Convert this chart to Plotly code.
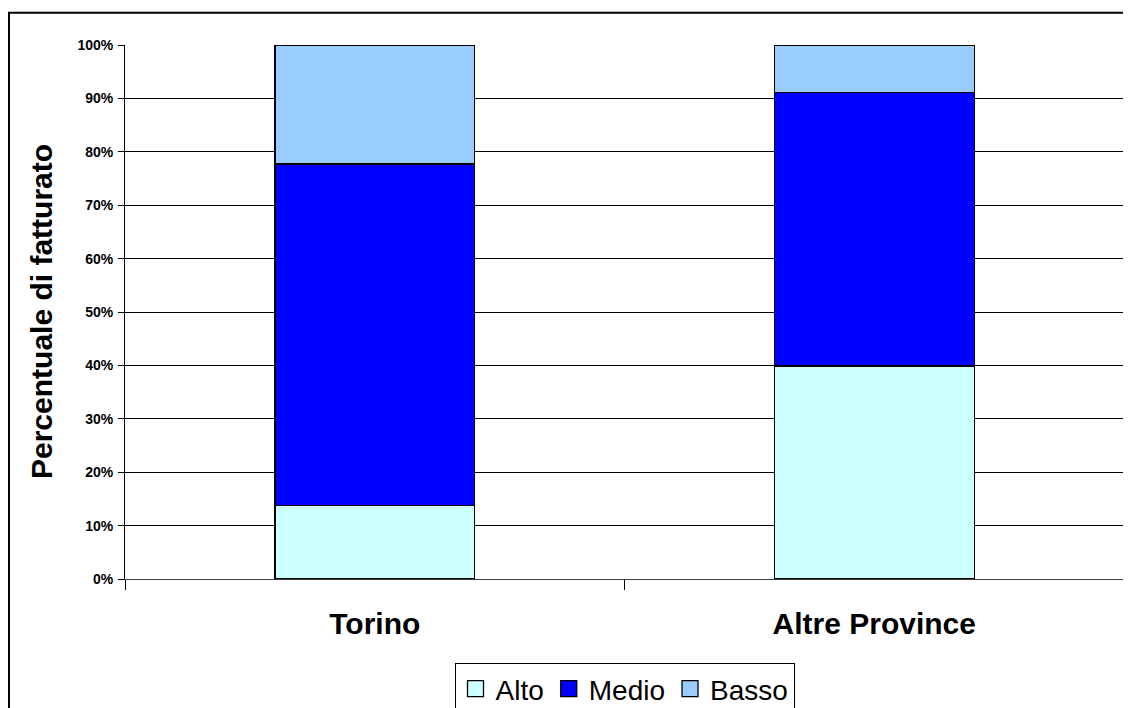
import plotly.graph_objects as go

categories = ["Torino", "Altre Province"]
series_names = ["Alto", "Medio", "Basso"]
alto = [13.8, 39.9]
medio = [63.9, 51.2]
basso = [22.3, 8.9]
colors = ["#CCFFFF", "#0000FF", "#99CCFF"]
y_ticks = [0, 10, 20, 30, 40, 50, 60, 70, 80, 90, 100]
y_title = "Percentuale di fatturato"

FONT = "Liberation Sans, Arial, sans-serif"

fig = go.Figure()
for name, vals, col in zip(series_names, [alto, medio, basso], colors):
    fig.add_trace(go.Bar(
        x=categories, y=vals, name=name,
        marker=dict(color=col, line=dict(color="black", width=1.3)),
        hoverinfo="skip", showlegend=False, legendgroup=name,
    ))
# legend entries with larger square keys
for name, col in zip(series_names, colors):
    fig.add_trace(go.Scatter(
        x=[None], y=[None], mode="markers", name=name, legendgroup=name,
        marker=dict(symbol="square", size=16, color=col,
                    line=dict(color="black", width=1.3)),
        hoverinfo="skip", showlegend=True,
    ))

# page has an 8px body margin; figure coordinates are page - 8
W, H = 1123, 730
L, R, T = 117, 7, 37
pw, ph = 999, 534
B = H - T - ph

def px_x(px):
    return (px - L) / pw

def px_y(py):
    return (T + ph - py) / ph

fig.update_layout(
    width=W, height=H,
    margin=dict(l=L, r=R, t=T, b=B, pad=0, autoexpand=False),
    barmode="stack",
    bargap=0.6,
    plot_bgcolor="white",
    paper_bgcolor="white",
    font=dict(family=FONT, color="black"),
    showlegend=True,
    legend=dict(
        orientation="h",
        traceorder="normal",
        x=0.5, xanchor="center",
        y=px_y(655), yanchor="top",
        font=dict(family=FONT, size=28, color="black"),
        bordercolor="black", borderwidth=1,
        bgcolor="white",
        itemwidth=30,
    ),
    xaxis=dict(
        range=[-0.5, 1.5],
        showline=True, linecolor="#404040", linewidth=1,
        ticks="outside", ticklen=10, tickcolor="black", tickwidth=1,
        tickson="boundaries",
        showgrid=False,
        tickfont=dict(family=FONT, size=30, color="black", weight="bold"),
        ticklabelstandoff=18,
        automargin=False,
    ),
    yaxis=dict(
        range=[0, 100],
        tickvals=y_ticks,
        ticktext=[f"{v}%" for v in y_ticks],
        showline=True, linecolor="black", linewidth=1,
        ticks="outside", ticklen=6, tickcolor="black", tickwidth=1,
        showgrid=True, gridcolor="black", gridwidth=1,
        tickfont=dict(family=FONT, size=14, color="black", weight="bold"),
        ticklabelstandoff=2,
        zeroline=False,
        automargin=False,
    ),
    annotations=[dict(
        text=y_title, textangle=-90,
        xref="paper", yref="paper",
        x=px_x(33), y=px_y(304),
        xanchor="center", yanchor="middle", showarrow=False,
        font=dict(family=FONT, size=30, color="black", weight="bold"),
    )],
    shapes=[dict(
        type="rect", xref="paper", yref="paper",
        x0=px_x(1), x1=px_x(1140),
        y0=px_y(750), y1=px_y(4.8),
        line=dict(color="black", width=2), fillcolor="rgba(0,0,0,0)",
        layer="below",
    )],
)

fig.write_html("out.html")
